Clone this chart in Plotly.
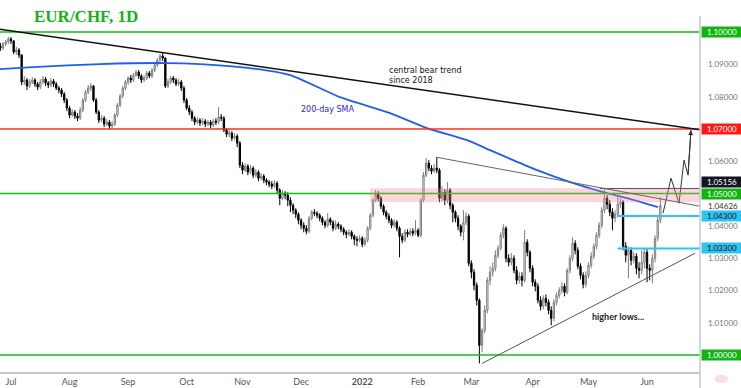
import pandas as pd
import plotly.graph_objects as go

# ---------------- data (EUR/CHF daily) ----------------
opens = [1.09566, 1.09504, 1.09628, 1.09690, 1.09783,
         1.09721, 1.09380, 1.09442, 1.09287, 1.08450, 1.08512, 1.08326, 1.08450, 1.08512, 1.08388,
         1.08295, 1.08450, 1.08543, 1.08419, 1.08357, 1.08481, 1.08388, 1.08264, 1.08202, 1.08078,
         1.07892, 1.07644, 1.07427, 1.07520, 1.07396, 1.07334, 1.07582, 1.07892, 1.08140, 1.08264,
         1.08326, 1.07892, 1.07520, 1.07272, 1.07334, 1.07148, 1.07210, 1.07086, 1.07148, 1.07427,
         1.07737, 1.08016, 1.08264, 1.08450, 1.08574, 1.08512, 1.08667, 1.08760, 1.08636, 1.08512,
         1.08574, 1.08729, 1.08636, 1.08822, 1.08977, 1.09132, 1.09256, 1.09194, 1.08326, 1.08450,
         1.08574, 1.08512, 1.08388, 1.08450, 1.08264, 1.07892, 1.07644, 1.07520, 1.07334, 1.07210,
         1.07272, 1.07179, 1.07241, 1.07148, 1.07210, 1.07117, 1.07241, 1.07210, 1.07365, 1.07334,
         1.06962, 1.06838, 1.06869, 1.06714, 1.06776, 1.06559, 1.05877, 1.05722, 1.05846, 1.05660,
         1.05784, 1.05567, 1.05660, 1.05474, 1.05536, 1.05412, 1.05350, 1.05288, 1.05226, 1.05319,
         1.05102, 1.04854, 1.05009, 1.04947, 1.04792, 1.04637, 1.04482, 1.04358, 1.04172, 1.04017,
         1.03924, 1.03831, 1.04234, 1.04420, 1.04389, 1.04327, 1.04234, 1.04110, 1.04017, 1.04203,
         1.04110, 1.03924, 1.04048, 1.03986, 1.03893, 1.03800, 1.03738, 1.03800, 1.03676, 1.03583,
         1.03552, 1.03614, 1.03428, 1.03552, 1.03924, 1.04327, 1.04792, 1.04978, 1.04854, 1.04606,
         1.04420, 1.04296, 1.04172, 1.04017, 1.04110, 1.03924, 1.03676, 1.03552, 1.03800, 1.03738,
         1.03831, 1.03769, 1.03862, 1.03707, 1.04792, 1.05567, 1.05939, 1.05784, 1.05691, 1.05784,
         1.05722, 1.04854, 1.05040, 1.04792, 1.05102, 1.04637, 1.04420, 1.04234, 1.03986, 1.03800,
         1.04110, 1.04296, 1.02839, 1.02560, 1.02157, 1.01692, 1.00297, 1.00762, 1.01382, 1.02312,
         1.02560, 1.02684, 1.03087, 1.03304, 1.03707, 1.03924, 1.02994, 1.02870, 1.02994, 1.02622,
         1.02312, 1.02436, 1.02312, 1.03490, 1.03180, 1.02684, 1.02250, 1.02126, 1.01692, 1.01506,
         1.01754, 1.01630, 1.01382, 1.01134, 1.01630, 1.01847, 1.02002, 1.02126, 1.01940, 1.02622,
         1.02994, 1.03459, 1.03242, 1.02746, 1.02467, 1.02188, 1.02467, 1.02777, 1.03056, 1.03366,
         1.03707, 1.04017, 1.04482, 1.04854, 1.04668, 1.04420, 1.04234, 1.04358, 1.04668, 1.04730,
         1.03366, 1.03087, 1.03242, 1.02932, 1.03056, 1.02684, 1.02622, 1.02870, 1.03180, 1.02684,
         1.02622, 1.02994, 1.03614, 1.04172]

highs = [1.09659, 1.09690, 1.09752, 1.09845, 1.09845,
         1.09752, 1.09535, 1.09504, 1.09318, 1.08636, 1.08574, 1.08543, 1.08605, 1.08574, 1.08450,
         1.08543, 1.08636, 1.08605, 1.08481, 1.08574, 1.08543, 1.08450, 1.08326, 1.08264, 1.08140,
         1.07954, 1.07706, 1.07613, 1.07582, 1.07489, 1.07675, 1.07954, 1.08202, 1.08357, 1.08419,
         1.08357, 1.07954, 1.07582, 1.07427, 1.07396, 1.07303, 1.07272, 1.07241, 1.07489, 1.07799,
         1.08078, 1.08326, 1.08512, 1.08636, 1.08667, 1.08729, 1.08822, 1.08822, 1.08698, 1.08667,
         1.08791, 1.08791, 1.08884, 1.09039, 1.09194, 1.09318, 1.09380, 1.09225, 1.08543, 1.08636,
         1.08636, 1.08574, 1.08543, 1.08512, 1.08326, 1.07954, 1.07737, 1.07582, 1.07396, 1.07365,
         1.07334, 1.07334, 1.07303, 1.07272, 1.07272, 1.07303, 1.07334, 1.07675, 1.07458, 1.07396,
         1.07024, 1.06962, 1.06931, 1.06869, 1.06838, 1.06621, 1.05970, 1.05939, 1.05908, 1.05877,
         1.05846, 1.05753, 1.05722, 1.05629, 1.05598, 1.05474, 1.05412, 1.05381, 1.05412, 1.05381,
         1.05164, 1.05102, 1.05071, 1.05040, 1.04885, 1.04699, 1.04544, 1.04420, 1.04234, 1.04110,
         1.04017, 1.04296, 1.04482, 1.04513, 1.04451, 1.04389, 1.04296, 1.04172, 1.04389, 1.04265,
         1.04172, 1.04172, 1.04110, 1.04048, 1.03955, 1.03862, 1.03893, 1.03862, 1.03738, 1.03676,
         1.03707, 1.03676, 1.03645, 1.03986, 1.04389, 1.04854, 1.05102, 1.05071, 1.04916, 1.04668,
         1.04482, 1.04389, 1.04234, 1.04203, 1.04172, 1.03986, 1.03769, 1.03893, 1.03893, 1.03924,
         1.03924, 1.04172, 1.03924, 1.04854, 1.05660, 1.06094, 1.06032, 1.05877, 1.05908, 1.06125,
         1.05784, 1.05226, 1.05133, 1.05350, 1.05164, 1.04699, 1.04482, 1.04327, 1.04048, 1.04482,
         1.04420, 1.04358, 1.02932, 1.02653, 1.02250, 1.01754, 1.00824, 1.01537, 1.02405, 1.02746,
         1.02870, 1.03242, 1.03397, 1.03800, 1.04048, 1.03986, 1.03118, 1.03149, 1.03087, 1.02746,
         1.02560, 1.02560, 1.03862, 1.03583, 1.03242, 1.02777, 1.02343, 1.02219, 1.01816, 1.01847,
         1.01878, 1.01723, 1.01506, 1.01723, 1.01940, 1.02095, 1.02250, 1.02219, 1.02684, 1.03087,
         1.03645, 1.03552, 1.03335, 1.02839, 1.02560, 1.02591, 1.02870, 1.03180, 1.03459, 1.03800,
         1.04110, 1.04575, 1.05133, 1.04947, 1.04792, 1.04544, 1.04482, 1.04916, 1.04854, 1.04792,
         1.03490, 1.03366, 1.03335, 1.03180, 1.03149, 1.02870, 1.03242, 1.03304, 1.03273, 1.02808,
         1.03118, 1.03707, 1.04265, 1.04885]

lows = [1.09411, 1.09442, 1.09566, 1.09628, 1.09628,
        1.09318, 1.09287, 1.09194, 1.08357, 1.08357, 1.08202, 1.08264, 1.08388, 1.08295, 1.08202,
        1.08233, 1.08388, 1.08326, 1.08264, 1.08295, 1.08295, 1.08202, 1.08109, 1.07985, 1.07799,
        1.07551, 1.07334, 1.07365, 1.07303, 1.07241, 1.07272, 1.07520, 1.07830, 1.08078, 1.08171,
        1.07830, 1.07458, 1.07179, 1.07210, 1.07055, 1.07086, 1.06993, 1.07024, 1.07086, 1.07365,
        1.07675, 1.07954, 1.08202, 1.08357, 1.08419, 1.08450, 1.08605, 1.08543, 1.08419, 1.08450,
        1.08512, 1.08574, 1.08574, 1.08760, 1.08915, 1.09070, 1.09101, 1.08264, 1.08264, 1.08388,
        1.08419, 1.08326, 1.08326, 1.08171, 1.07799, 1.07582, 1.07427, 1.07241, 1.07117, 1.07148,
        1.07086, 1.07117, 1.07055, 1.07086, 1.07024, 1.07055, 1.07117, 1.07148, 1.07241, 1.06900,
        1.06745, 1.06745, 1.06621, 1.06652, 1.06435, 1.05784, 1.05598, 1.05660, 1.05567, 1.05598,
        1.05474, 1.05505, 1.05381, 1.05412, 1.05319, 1.05257, 1.05195, 1.05133, 1.05164, 1.05009,
        1.04637, 1.04792, 1.04823, 1.04606, 1.04420, 1.04358, 1.04234, 1.04048, 1.03893, 1.03800,
        1.03738, 1.03769, 1.04172, 1.04296, 1.04234, 1.04141, 1.04017, 1.03924, 1.03955, 1.04017,
        1.03831, 1.03862, 1.03893, 1.03800, 1.03707, 1.03614, 1.03676, 1.03583, 1.03397, 1.03366,
        1.03490, 1.03335, 1.03366, 1.03490, 1.03862, 1.04265, 1.04730, 1.04761, 1.04513, 1.04327,
        1.04203, 1.04079, 1.03924, 1.03955, 1.03831, 1.03025, 1.03459, 1.03490, 1.03645, 1.03676,
        1.03676, 1.03707, 1.03645, 1.03645, 1.04730, 1.05505, 1.05691, 1.05598, 1.05629, 1.05629,
        1.04730, 1.04761, 1.04637, 1.04699, 1.04513, 1.04110, 1.04110, 1.03862, 1.03676, 1.03552,
        1.04017, 1.02746, 1.02374, 1.02002, 1.01537, 0.99739, 1.00080, 1.00669, 1.01289, 1.02157,
        1.02436, 1.02591, 1.02994, 1.03242, 1.03614, 1.02870, 1.02746, 1.02777, 1.02529, 1.02188,
        1.02219, 1.02126, 1.02250, 1.03056, 1.02560, 1.02126, 1.01971, 1.01599, 1.01382, 1.01413,
        1.01506, 1.01258, 1.00917, 1.01041, 1.01537, 1.01754, 1.01909, 1.01816, 1.01878, 1.02529,
        1.02901, 1.03118, 1.02653, 1.02343, 1.02064, 1.02095, 1.02374, 1.02684, 1.02963, 1.03273,
        1.03614, 1.03924, 1.04389, 1.04513, 1.04296, 1.03862, 1.04110, 1.04265, 1.04544, 1.03242,
        1.02870, 1.02374, 1.02777, 1.02839, 1.02498, 1.02374, 1.02498, 1.02684, 1.02250, 1.02312,
        1.02219, 1.02870, 1.03521, 1.04079]

closes = [1.09504, 1.09628, 1.09690, 1.09783, 1.09721,
          1.09380, 1.09442, 1.09287, 1.08450, 1.08512, 1.08326, 1.08450, 1.08512, 1.08388, 1.08295,
          1.08450, 1.08543, 1.08419, 1.08357, 1.08481, 1.08388, 1.08264, 1.08202, 1.08078, 1.07892,
          1.07644, 1.07427, 1.07520, 1.07396, 1.07334, 1.07582, 1.07892, 1.08140, 1.08264, 1.08326,
          1.07892, 1.07520, 1.07272, 1.07334, 1.07148, 1.07210, 1.07086, 1.07148, 1.07427, 1.07737,
          1.08016, 1.08264, 1.08450, 1.08574, 1.08512, 1.08667, 1.08760, 1.08636, 1.08512, 1.08574,
          1.08729, 1.08636, 1.08822, 1.08977, 1.09132, 1.09256, 1.09194, 1.08326, 1.08450, 1.08574,
          1.08512, 1.08388, 1.08450, 1.08264, 1.07892, 1.07644, 1.07520, 1.07334, 1.07210, 1.07272,
          1.07179, 1.07241, 1.07148, 1.07210, 1.07117, 1.07241, 1.07210, 1.07365, 1.07334, 1.06962,
          1.06838, 1.06869, 1.06714, 1.06776, 1.06559, 1.05877, 1.05722, 1.05846, 1.05660, 1.05784,
          1.05567, 1.05660, 1.05474, 1.05536, 1.05412, 1.05350, 1.05288, 1.05226, 1.05319, 1.05102,
          1.04854, 1.05009, 1.04947, 1.04792, 1.04637, 1.04482, 1.04358, 1.04172, 1.04017, 1.03924,
          1.03831, 1.04234, 1.04420, 1.04389, 1.04327, 1.04234, 1.04110, 1.04017, 1.04203, 1.04110,
          1.03924, 1.04048, 1.03986, 1.03893, 1.03800, 1.03738, 1.03800, 1.03676, 1.03583, 1.03552,
          1.03614, 1.03428, 1.03552, 1.03924, 1.04327, 1.04792, 1.04978, 1.04854, 1.04606, 1.04420,
          1.04296, 1.04172, 1.04017, 1.04110, 1.03924, 1.03676, 1.03552, 1.03800, 1.03738, 1.03831,
          1.03769, 1.03862, 1.03707, 1.04792, 1.05567, 1.05939, 1.05784, 1.05691, 1.05784, 1.05722,
          1.04854, 1.05040, 1.04792, 1.05102, 1.04637, 1.04420, 1.04234, 1.03986, 1.03800, 1.04110,
          1.04296, 1.02839, 1.02560, 1.02157, 1.01692, 1.00297, 1.00762, 1.01382, 1.02312, 1.02560,
          1.02684, 1.03087, 1.03304, 1.03707, 1.03924, 1.02994, 1.02870, 1.02994, 1.02622, 1.02312,
          1.02436, 1.02312, 1.03490, 1.03180, 1.02684, 1.02250, 1.02126, 1.01692, 1.01506, 1.01754,
          1.01630, 1.01382, 1.01134, 1.01630, 1.01847, 1.02002, 1.02126, 1.01940, 1.02622, 1.02994,
          1.03459, 1.03242, 1.02746, 1.02467, 1.02188, 1.02467, 1.02777, 1.03056, 1.03366, 1.03707,
          1.04017, 1.04482, 1.04854, 1.04668, 1.04420, 1.04234, 1.04358, 1.04668, 1.04730, 1.03366,
          1.03087, 1.03242, 1.02932, 1.03056, 1.02684, 1.02622, 1.02870, 1.03180, 1.02684, 1.02622,
          1.02994, 1.03614, 1.04172, 1.04626]

first_date = "2021-06-25"

# 200-day SMA (bar position, value)
sma_pos = [-0.13, 12.3, 37.5, 62.6, 75.0, 93.8, 108.9, 127.6, 146.4, 160.3,
           175.4, 184.0, 192.7, 201.7, 214.1, 226.5, 235.5, 247.1]
sma_val = [1.08853, 1.08915, 1.09008, 1.09039, 1.09008, 1.08884, 1.08667, 1.07985,
           1.07489, 1.07024, 1.06652, 1.06342, 1.06032, 1.05722, 1.05350, 1.05040,
           1.04854, 1.04575]

# projected path (bar position, price)
proj_pos = [249.0, 252.0, 255.0, 256.9, 258.4, 259.5]
proj_val = [1.04389, 1.05474, 1.04699, 1.06032, 1.05567, 1.06962]

# drawn levels / trend lines
green_levels = [1.10, 1.05, 1.00]
red_levels = [1.07]
cyan_levels = [1.043, 1.033]
may_high = 1.05156
band_low, band_high = 1.0473, 1.0516
bear_trend = [(-0.13, 1.10084), (262.9, 1.06971)]
feb_trend = [(163.7, 1.06125), (262.9, 1.04606)]
support_trend = [(181.0, 0.99739), (261.0, 1.03149)]

plain_labels = [1.09, 1.08, 1.06, 1.04626, 1.04, 1.03, 1.02, 1.01]
box_labels = [1.10, 1.07, 1.05156, 1.05, 1.043, 1.033, 1.00]
box_colors = ["#12b412", "#ff1a1a", "#131722", "#12b412", "#2ec4f2", "#2ec4f2", "#12b412"]
box_text_colors = ["white", "white", "white", "white", "#111", "#111", "white"]
box_shift = [0, 0, 6, 0, 0, 0, 0]

# ---------------- build ----------------
n = len(closes)
assert len(opens) == len(highs) == len(lows) == n
dates = pd.bdate_range(first_date, periods=n)
pos = list(range(n))

tickvals, ticktext = [], []
for i in range(1, n):
    if dates[i].month != dates[i - 1].month:
        tickvals.append(i)
        ticktext.append("<b>%d</b>" % dates[i].year if dates[i].month == 1 else dates[i].strftime("%b"))

XMIN, XMAX = -0.13, 262.9
YMIN, YMAX = 0.99474, 1.10495

fig = go.Figure()
fig.add_trace(go.Candlestick(
    x=pos, open=opens, high=highs, low=lows, close=closes,
    increasing=dict(line=dict(color="#7c7c7c", width=1), fillcolor="#ffffff"),
    decreasing=dict(line=dict(color="#000000", width=1), fillcolor="#000000"),
    whiskerwidth=0, showlegend=False, hoverinfo="skip"))

fig.add_trace(go.Scatter(x=sma_pos, y=sma_val, mode="lines",
                         line=dict(color="#1f5ef0", width=1.8, shape="spline", smoothing=0.6),
                         showlegend=False, hoverinfo="skip"))

fig.add_trace(go.Scatter(x=proj_pos, y=proj_val, mode="lines",
                         line=dict(color="#333333", width=1),
                         showlegend=False, hoverinfo="skip"))

shapes = []
for lv in green_levels:
    shapes.append(dict(type="line", xref="paper", yref="y", x0=0, x1=1, y0=lv, y1=lv,
                       line=dict(color="#14bd14", width=1.5)))
for lv in red_levels:
    shapes.append(dict(type="line", xref="paper", yref="y", x0=0, x1=1, y0=lv, y1=lv,
                       line=dict(color="#ff2a2a", width=1.5)))
shapes.append(dict(type="rect", xref="x", yref="y", x0=138.9, x1=XMAX, y0=band_low, y1=band_high,
                   fillcolor="rgba(240,130,145,0.32)", line=dict(width=0)))
for lv in cyan_levels:
    shapes.append(dict(type="line", xref="x", yref="y", x0=232, x1=XMAX, y0=lv, y1=lv,
                       line=dict(color="#2ec4f2", width=2)))
shapes.append(dict(type="line", xref="x", yref="y", x0=225.3, x1=XMAX, y0=may_high, y1=may_high,
                   line=dict(color="#555555", width=1)))
for (p0, p1), col, w in [(bear_trend, "#111111", 1.5), (feb_trend, "#666666", 1),
                         (support_trend, "#555555", 1)]:
    shapes.append(dict(type="line", xref="x", yref="y", x0=p0[0], y0=p0[1], x1=p1[0], y1=p1[1],
                       line=dict(color=col, width=w)))
# right price-scale border and the small pink marker at the corner
shapes.append(dict(type="line", xref="paper", yref="paper", x0=1, x1=1, y0=-0.045, y1=1,
                   line=dict(color="#c6c8ce", width=1.5)))
shapes.append(dict(type="circle", xref="paper", yref="paper", x0=1.021, x1=1.040, y0=-0.031, y1=-0.008,
                   fillcolor="rgba(242,160,175,0.35)", line=dict(width=0)))

ann = []
ann.append(dict(text="<b>EUR/CHF, 1D</b>", xref="paper", yref="paper", x=32 / 700, y=1.0,
                xanchor="left", yanchor="middle", showarrow=False,
                font=dict(family="Liberation Serif", size=17, color="#14b414")))
ann.append(dict(text="central bear trend<br>since 2018", xref="paper", yref="paper",
                x=387 / 700, y=(372 - 64) / 356, xanchor="left", yanchor="top", align="left",
                showarrow=False, font=dict(family="DejaVu Sans", size=8, color="#111")))
ann.append(dict(text="200-day SMA", xref="paper", yref="paper", x=299 / 700, y=(372 - 109) / 356,
                xanchor="left", yanchor="middle", showarrow=False,
                font=dict(family="DejaVu Sans", size=8, color="#2626dc")))
ann.append(dict(text="<b>higher lows...</b>", xref="paper", yref="paper", x=590 / 700,
                y=(372 - 316) / 356, xanchor="left", yanchor="middle", showarrow=False,
                font=dict(family="Lato", size=9, color="#222")))
# arrow head of the projected path
ann.append(dict(x=proj_pos[-1], y=proj_val[-1], ax=proj_pos[-2], ay=proj_val[-2],
                xref="x", yref="y", axref="x", ayref="y", text="", showarrow=True,
                arrowhead=2, arrowsize=1, arrowwidth=1, arrowcolor="#333"))
# price-scale labels
for lv in plain_labels:
    ann.append(dict(text="%.5f" % lv, xref="paper", yref="y", x=1, y=lv, xanchor="left",
                    yanchor="middle", xshift=1, width=40, align="center", showarrow=False,
                    font=dict(family="Lato", size=8,
                              color="#333" if lv == 1.04626 else "#73767f")))
for lv, bc, tc, sh in zip(box_labels, box_colors, box_text_colors, box_shift):
    ann.append(dict(text="%.5f" % lv, xref="paper", yref="y", x=1, y=lv, xanchor="left",
                    yanchor="middle", xshift=1, yshift=sh, width=40, height=10, borderpad=0,
                    align="center", bgcolor=bc, showarrow=False,
                    font=dict(family="Lato", size=8, color=tc)))

fig.update_layout(
    width=741, height=388, template="none",
    margin=dict(l=0, r=41, t=16, b=16, autoexpand=False),
    paper_bgcolor="white", plot_bgcolor="white",
    shapes=shapes, annotations=ann, showlegend=False,
    xaxis=dict(range=[XMIN, XMAX], tickvals=tickvals, ticktext=ticktext, showgrid=False,
               zeroline=False, showline=True, linecolor="#c6c8ce", linewidth=1.5, ticks="",
               tickfont=dict(family="Lato", size=9, color="#555"), automargin=False,
               rangeslider=dict(visible=False), fixedrange=True),
    yaxis=dict(range=[YMIN, YMAX], side="right", showticklabels=False, showgrid=False,
               zeroline=False, showline=False, ticks="", automargin=False, fixedrange=True),
)

fig.write_html("out.html", config={"displayModeBar": False},
               post_script="document.body.style.margin='0px';document.body.style.overflow='hidden';")
